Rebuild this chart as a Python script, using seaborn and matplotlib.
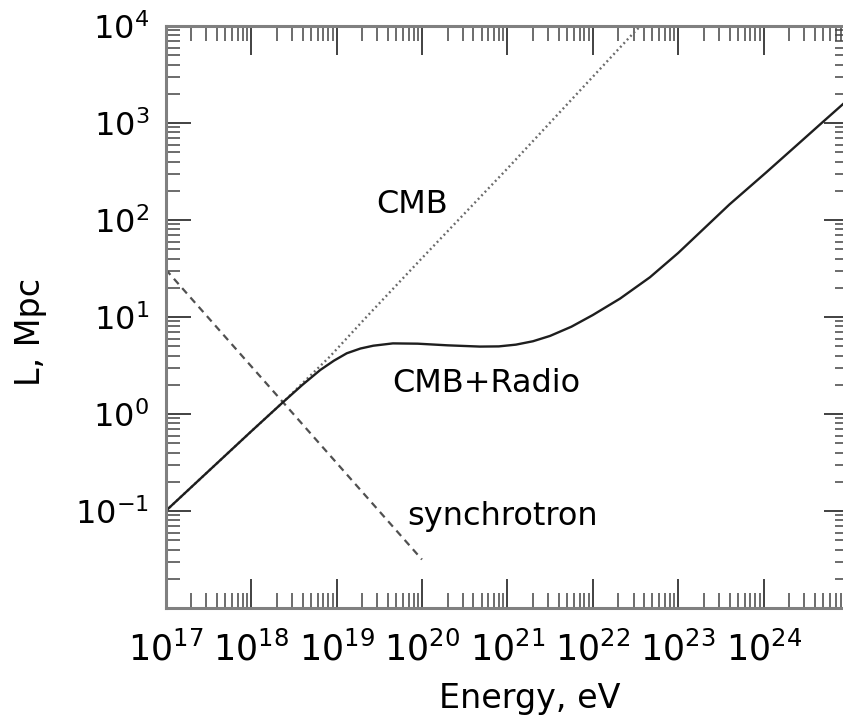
import numpy as np
import pandas as pd
import matplotlib
matplotlib.use("Agg")
import matplotlib.pyplot as plt
from matplotlib.ticker import FixedLocator, LogLocator, NullFormatter
import seaborn as sns

# Energy-loss length of electrons, read as log10 values (E in eV, L in Mpc)
cmb_log_e = [17.00, 17.50, 18.00, 18.38, 18.92, 19.35, 19.98, 21.00, 22.49, 22.56]
cmb_log_l = [-1.00, -0.59, -0.18, 0.127, 0.59, 1.00, 1.588, 2.53, 3.94, 4.00]

radio_log_e = [17.00, 17.50, 18.00, 18.38, 18.60, 18.81, 18.97, 19.12, 19.28, 19.43,
               19.66, 19.95, 20.30, 20.68, 20.90, 21.10, 21.30, 21.50, 21.75, 22.00,
               22.32, 22.67, 23.00, 23.30, 23.60, 24.03, 24.40, 24.68, 25.00]
radio_log_l = [-1.00, -0.59, -0.18, 0.127, 0.30, 0.454, 0.55, 0.626, 0.675, 0.704,
               0.728, 0.725, 0.708, 0.695, 0.697, 0.715, 0.750, 0.805, 0.900, 1.020,
               1.190, 1.410, 1.660, 1.910, 2.160, 2.490, 2.780, 3.000, 3.250]

sync_log_e = [17.00, 20.00]
sync_log_l = [1.49, -1.50]

x_tick_exp = [17, 18, 19, 20, 21, 22, 23, 24]
y_tick_exp = [-1, 0, 1, 2, 3, 4]
x_tick_labels = [rf"$10^{{{k}}}$" for k in x_tick_exp]
y_tick_labels = [rf"$10^{{{k}}}$" for k in y_tick_exp]

curve_labels = ["CMB", "CMB+Radio", "synchrotron"]
label_pos_e = [7.6e19, 5.7e20, 8.7e20]
label_pos_l = [117.0, 1.70, 0.0718]


def frame(log_e, log_l):
    return pd.DataFrame({"E": 10.0 ** np.asarray(log_e), "L": 10.0 ** np.asarray(log_l)})


sns.set_theme(style="white")
plt.rcParams["font.family"] = ["DejaVu Sans"]
plt.rcParams["mathtext.fontset"] = "dejavusans"
plt.rcParams["text.color"] = "black"
plt.rcParams["axes.labelcolor"] = "black"

fig = plt.figure(figsize=(8.43, 7.19), dpi=100)
ax = fig.add_axes([165.7 / 843, (719 - 608) / 719, (849 - 165.7) / 843, 582 / 719])
ax.set_xscale("log")
ax.set_yscale("log")

sns.lineplot(data=frame(cmb_log_e, cmb_log_l), x="E", y="L", ax=ax, color="#6a6a6a",
             linewidth=1.7, linestyle=(0, (0.8, 1.3)), estimator=None, sort=False)
sns.lineplot(data=frame(sync_log_e, sync_log_l), x="E", y="L", ax=ax, color="#505050",
             linewidth=1.6, linestyle=(0, (3.2, 2.4)), estimator=None, sort=False)
sns.lineplot(data=frame(radio_log_e, radio_log_l), x="E", y="L", ax=ax, color="#1e1e1e",
             linewidth=1.7, estimator=None, sort=False)

ax.set_xlim(1e17, 1e25)
ax.set_ylim(1e-2, 1e4)

ax.xaxis.set_major_locator(FixedLocator([10.0 ** k for k in x_tick_exp]))
ax.set_xticklabels(x_tick_labels)
ax.yaxis.set_major_locator(FixedLocator([10.0 ** k for k in y_tick_exp]))
ax.set_yticklabels(y_tick_labels)
ax.xaxis.set_minor_locator(LogLocator(base=10, subs=np.arange(2, 10), numticks=40))
ax.yaxis.set_minor_locator(LogLocator(base=10, subs=np.arange(2, 10), numticks=40))
ax.xaxis.set_minor_formatter(NullFormatter())
ax.yaxis.set_minor_formatter(NullFormatter())

ax.tick_params(axis="x", which="major", direction="in", top=True, bottom=True,
               length=21, width=1.3, color="#333333", labelsize=25, pad=17,
               labelcolor="black")
ax.tick_params(axis="x", which="minor", direction="in", top=True, bottom=True,
               length=11, width=1.1, color="#444444")
ax.tick_params(axis="y", which="major", direction="in", left=True, right=True,
               length=18, width=1.3, color="#333333", labelsize=23, pad=12,
               labelcolor="black")
ax.tick_params(axis="y", which="minor", direction="in", left=True, right=True,
               length=10, width=1.1, color="#444444")

for side in ax.spines.values():
    side.set_color("#808080")
    side.set_linewidth(2.2)

ax.set_xlabel("Energy, eV", fontsize=24)
ax.set_ylabel("L, Mpc", fontsize=24)
ax.xaxis.set_label_coords(0.533, -0.127)
ax.yaxis.set_label_coords(-0.174, 0.474)

for text, e, l in zip(curve_labels, label_pos_e, label_pos_l):
    ax.text(e, l, text, fontsize=23, ha="center", va="baseline", color="black")

fig.savefig("out.png", dpi=100)
